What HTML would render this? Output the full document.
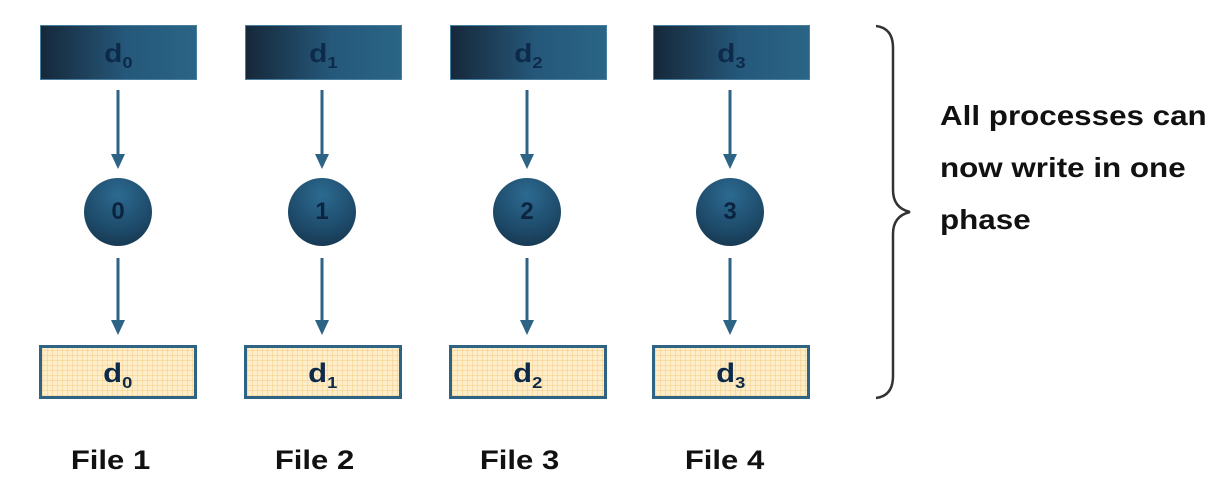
<!DOCTYPE html>
<html><head><style>
body{margin:0;background:#fff;width:1222px;height:502px;position:relative;overflow:hidden;font-family:"Liberation Sans",Arial,sans-serif;font-weight:bold}
.s{display:inline-block;transform:scaleX(1.15)}
.top{position:absolute;top:25px;width:157px;height:55px;background:linear-gradient(90deg,#16283a,#25587a 55%,#2a6586);box-sizing:border-box;border:1px solid #4a7fa0;color:#0d2a4a;font-size:26px;text-align:center;line-height:55px}
.bot{position:absolute;top:345px;width:158px;height:54px;box-sizing:border-box;border:3px solid #2d6385;background-color:#fdeec9;background-image:repeating-linear-gradient(0deg,rgba(240,190,110,.35) 0 1px,transparent 1px 5px),repeating-linear-gradient(90deg,rgba(240,190,110,.35) 0 1px,transparent 1px 5px);color:#0f2a48;font-size:27px;text-align:center;line-height:50px}
sub{font-size:16px;vertical-align:-6px}
.c{position:absolute;top:178px;width:68px;height:68px;border-radius:50%;background:radial-gradient(circle at 50% 25%,#2c6a90,#1d4968 60%,#142f45);color:#0b2440;font-size:24px;text-align:center;line-height:68px}
.f{position:absolute;top:445px;width:160px;text-align:center;font-size:27px;color:#111}
.t{position:absolute;left:940px;font-size:28px;color:#111;transform:scaleX(1.12);transform-origin:0 0;white-space:nowrap}
</style></head><body>
<svg width="1222" height="502" style="position:absolute;left:0;top:0">
<g stroke="#2d6385" stroke-width="3" fill="none">
<path d="M118 90V160M118 258V325"/><path d="M322 90V160M322 258V325"/><path d="M527 90V160M527 258V325"/><path d="M730 90V160M730 258V325"/>
</g>
<g fill="#2d6385">
<path d="M111 154h14l-7 15z M111 320h14l-7 15z"/>
<path d="M315 154h14l-7 15z M315 320h14l-7 15z"/>
<path d="M520 154h14l-7 15z M520 320h14l-7 15z"/>
<path d="M723 154h14l-7 15z M723 320h14l-7 15z"/>
</g>
<path d="M876 26 Q893 28 893 48 V190 Q893 208 910 212 Q893 216 893 234 V376 Q893 396 876 398" stroke="#333" stroke-width="2.5" fill="none"/>
</svg>
<div class="top" style="left:40px"><span class="s">d<sub>0</sub></span></div>
<div class="top" style="left:245px"><span class="s">d<sub>1</sub></span></div>
<div class="top" style="left:450px"><span class="s">d<sub>2</sub></span></div>
<div class="top" style="left:653px"><span class="s">d<sub>3</sub></span></div>
<div class="c" style="left:84px">0</div>
<div class="c" style="left:288px">1</div>
<div class="c" style="left:493px">2</div>
<div class="c" style="left:696px">3</div>
<div class="bot" style="left:39px"><span class="s">d<sub>0</sub></span></div>
<div class="bot" style="left:244px"><span class="s">d<sub>1</sub></span></div>
<div class="bot" style="left:449px"><span class="s">d<sub>2</sub></span></div>
<div class="bot" style="left:652px"><span class="s">d<sub>3</sub></span></div>
<div class="f" style="left:31px"><span class="s">File 1</span></div>
<div class="f" style="left:235px"><span class="s">File 2</span></div>
<div class="f" style="left:440px"><span class="s">File 3</span></div>
<div class="f" style="left:645px"><span class="s">File 4</span></div>
<div class="t" style="top:100px">All processes can</div>
<div class="t" style="top:152px">now write in one</div>
<div class="t" style="top:204px">phase</div>
</body></html>
